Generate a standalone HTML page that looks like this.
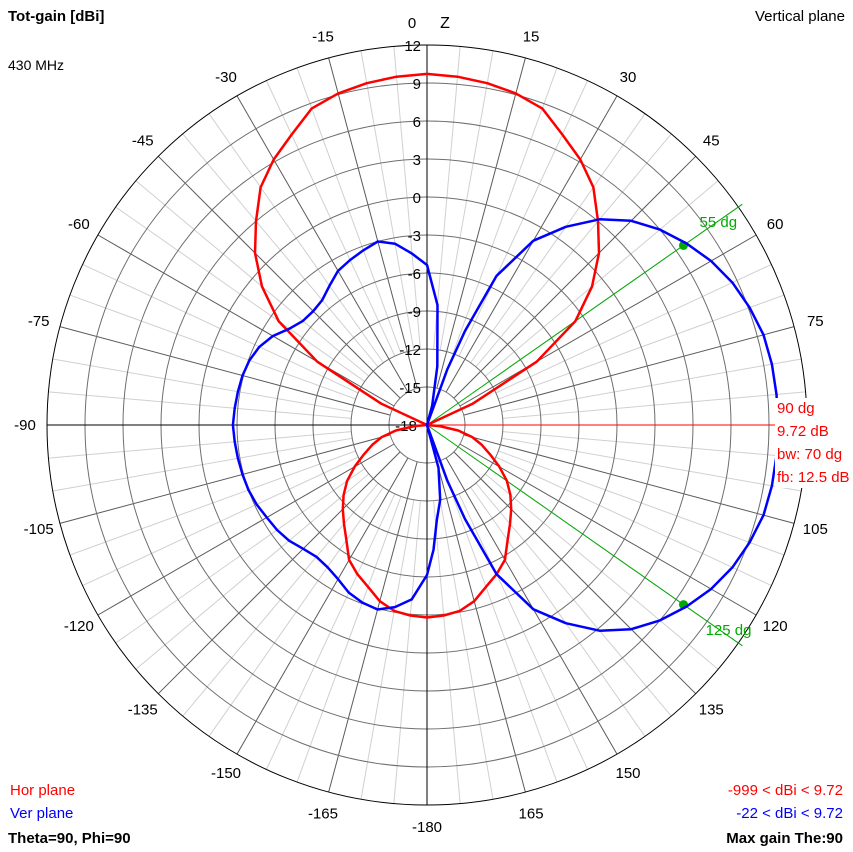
<!DOCTYPE html>
<html><head><meta charset="utf-8"><style>
body{margin:0;background:#fff;}
svg{display:block;font-family:"Liberation Sans",sans-serif;}
</style></head><body>
<svg id="c" width="853" height="852" xmlns="http://www.w3.org/2000/svg">
<rect width="853" height="852" fill="#fff"/>
<g id="grid"></g>
<g id="series"></g>
<g id="txt" font-size="15">
<text x="8" y="21" font-weight="bold">Tot-gain [dBi]</text>
<text x="8" y="70" font-size="14">430 MHz</text>
<text x="845" y="21" text-anchor="end">Vertical plane</text>
<text x="10" y="795" fill="#f00">Hor plane</text>
<text x="10" y="818" fill="#00f">Ver plane</text>
<text x="8" y="843" font-weight="bold">Theta=90, Phi=90</text>
<text x="843" y="795" fill="#f00" text-anchor="end">-999 &lt; dBi &lt; 9.72</text>
<text x="843" y="818" fill="#00f" text-anchor="end">-22 &lt; dBi &lt; 9.72</text>
<text x="843" y="843" font-weight="bold" text-anchor="end">Max gain The:90</text>
</g>
</svg>
<script>
const ringLabels=["-15","-12","-9","-6","-3","0","3","6","9","12"];
const angleLabels=[0,15,30,45,60,75,90,105,120,135,150,165,-180,-165,-150,-135,-120,-105,-90,-75,-60,-45,-30,-15];
const horAngles=[0,5,10,15,20,25,30,35,40,45,50,55,60,65,70,75,80,85,90,95,100,105,110,115,120,125,130,135,140,145,150,155,160,165,170,175,180];
const horDb=[9.72,9.6,9.4,9.1,8.6,7.3,6.2,4.9,3.0,1.2,-1.0,-3.7,-8,-14,-19,-30,-40,-60,-99,-17,-15.5,-14.3,-13.4,-12.5,-11.4,-10.3,-9.4,-8.6,-7.8,-6.9,-5.7,-5.0,-4.4,-3.6,-3.1,-2.9,-2.8];
const verAngles=[0,5,10,15,18,20,22,25,30,35,40,45,50,55,60,65,70,75,80,85,90,95,100,105,110,115,120,125,130,135,140,145,150,155,158,160,162,165,170,174,177,180,185,190,195,200,205,210,215,220,225,230,235,240,245,250,255,260,265,270,275,280,285,290,295,300,305,310,315,320,325,330,335,340,345,350,355];
const verDb=[-5.37,-8.5,-13.3,-16.4,-19,-13.3,-10,-5,-1.2,1.1,3.2,4.8,6.0,7.0,7.9,8.6,9.1,9.5,9.65,9.7,9.72,9.7,9.65,9.5,9.1,8.6,7.9,7.0,6.0,4.8,3.2,1.1,-1.2,-5,-10,-13.3,-19,-14.5,-12,-10.5,-8.13,-6.16,-4.18,-3.4,-2.92,-3.08,-3.4,-3.95,-4.3,-4.42,-4.18,-3.79,-3.55,-3.4,-3.16,-3.0,-2.92,-2.84,-2.76,-2.68,-2.76,-2.84,-2.92,-3.08,-3.4,-3.95,-4.74,-5.21,-5.29,-5.13,-4.58,-3.95,-3.63,-3.32,-3.0,-3.47,-4.42];
const markerAngles=[55,125];
const markerDb=[6.72,6.72];
const maxAngle=90;

const NS="http://www.w3.org/2000/svg";
const cx=427,cy=425,R=380,minDb=-18,maxDb=12;
function rScale(db){return Math.max(0,(db-minDb)/(maxDb-minDb)*R);}
function pt(a,r){const t=a*Math.PI/180;return [cx+r*Math.sin(t),cy-r*Math.cos(t)];}
function mk(tag,attrs,parent){const e=document.createElementNS(NS,tag);for(const k in attrs)e.setAttribute(k,attrs[k]);parent.appendChild(e);return e;}
const grid=document.getElementById('grid'),ser=document.getElementById('series');
for(let a=0;a<360;a+=5){ if(a%15===0)continue;
 const p1=pt(a,76),p2=pt(a,R);
 const l=mk('line',{x1:p1[0],y1:p1[1],x2:p2[0],y2:p2[1],stroke:'#d0d0d0','stroke-width':1},grid);
 
 
}
for(let a=0;a<360;a+=15){ if(a%90===0)continue;
 const p1=pt(a,38),p2=pt(a,R);
 const l=mk('line',{x1:p1[0],y1:p1[1],x2:p2[0],y2:p2[1],stroke:'#5a5a5a','stroke-width':1},grid);
 
 
}
for(let k=1;k<ringLabels.length;k++){
 const c=mk('circle',{cx:cx,cy:cy,r:R*k/10,fill:'none',stroke:'#6e6e6e','stroke-width':1},grid);
 
 
}
const oc=mk('circle',{cx:cx,cy:cy,r:R,fill:'none',stroke:'#000','stroke-width':1},grid);


const ax1=mk('line',{x1:cx-R,y1:cy,x2:cx+R,y2:cy,stroke:'#000'},grid);


const ax2=mk('line',{x1:cx,y1:cy-R,x2:cx,y2:cy+R,stroke:'#000'},grid);


ringLabels.forEach((t,i)=>{
 const tx=mk('text',{x:421,y:cy-R*(i+1)/10+6,'text-anchor':'end','font-size':15},grid);
 tx.textContent=t;
 
 
});
const t18=mk('text',{x:406,y:cy+6,'text-anchor':'middle','font-size':15},grid);
t18.textContent='-18';


angleLabels.forEach(a=>{
 if(a===90)return;
 let p=pt(a,402);
 let x=p[0];
 if(a===0)x=412;
 const tx=mk('text',{x:x,y:p[1]+5,'text-anchor':'middle','font-size':15},grid);
 tx.textContent=String(a);
 
 
});
const z=mk('text',{x:445,y:28,'text-anchor':'middle','font-size':16},grid);
z.textContent='Z';


markerAngles.forEach((a,i)=>{
 const p=pt(a,385);
 const l=mk('line',{x1:cx,y1:cy,x2:p[0],y2:p[1],stroke:'#0a0','stroke-width':1},ser);
 
 
 const d=pt(a,rScale(markerDb[i]));
 const c=mk('circle',{cx:d[0],cy:d[1],r:4.5,fill:'#0a0'},ser);
 
 
 const lp=pt(a,a<90?340:345);
 const tx=mk('text',{x:lp[0]+(a<90?-6:-4),y:lp[1]+(a<90?-3:12),fill:'#0a0','font-size':15},ser);
 tx.textContent=a+' dg';
 
 
});
const mp=pt(maxAngle,350);
const ml=mk('line',{x1:cx,y1:cy,x2:mp[0],y2:mp[1],stroke:'#f00','stroke-width':1},ser);


function path(angles,dbs,color,name,mirror){
 let pts=angles.map((a,i)=>pt(a,rScale(dbs[i])));
 if(mirror){const back=angles.slice().reverse().map((a,j)=>pt(-a,rScale(dbs[angles.length-1-j])));pts=pts.concat(back);}
 const d='M'+pts.map(p=>p[0].toFixed(1)+','+p[1].toFixed(1)).join('L')+'Z';
 const e=mk('path',{d:d,fill:'none',stroke:color,'stroke-width':2.5,'stroke-linejoin':'round'},ser);
 
 
}
path(horAngles,horDb,'#f00','hor-plane-series',true);
path(verAngles,verDb,'#00f','ver-plane-series',false);
const info=[["90 dg",413],["9.72 dB",436],["bw: 70 dg",459],["fb: 12.5 dB",482]];
mk('rect',{x:775,y:398,width:78,height:90,fill:'#fff'},ser);
info.forEach(([t,y])=>{
 const tx=mk('text',{x:777,y:y,fill:'#f00','font-size':15},ser);
 tx.textContent=t;
 
 
});
</script>
</body></html>
